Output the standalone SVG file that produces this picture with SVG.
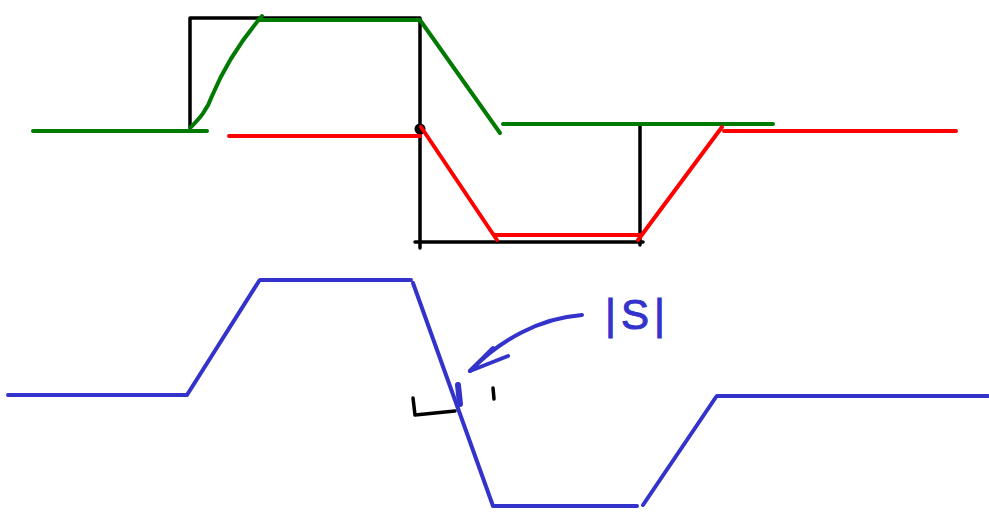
<svg xmlns="http://www.w3.org/2000/svg" width="989" height="519" viewBox="0 0 989 519">
<style>
.k{stroke:#000;stroke-width:3.5;fill:none;stroke-linecap:round;stroke-linejoin:round}
.g{stroke:#007a00;stroke-width:4;fill:none;stroke-linecap:round;stroke-linejoin:round}
.r{stroke:#ff0000;stroke-width:4;fill:none;stroke-linecap:round;stroke-linejoin:round}
.b{stroke:#3333cc;stroke-width:4;fill:none;stroke-linecap:round;stroke-linejoin:round}
</style>
<rect width="989" height="519" fill="#fff"/>
<g id="black-frame">
<path class="k" d="M190,128 L190,18 L420,18 L420,248"/>
<path class="k" d="M415,242 L643,242"/>
<path class="k" d="M640,124 L640,245"/>
<circle cx="420" cy="129" r="5.5" fill="#000"/>
</g>
<g id="green-signal">
<path class="g" d="M33,131 L207,131"/>
<path class="g" d="M191,127 C200,118 207,110 212,96 C222,72 238,44 262,16"/>
<path class="g" d="M258,20 L420,20 L500,133"/>
<path class="g" d="M503,124 L773,124"/>
</g>
<g id="red-signal">
<path class="r" d="M229,136 L420,136"/>
<path class="r" d="M421,127 L497,240"/>
<path class="r" d="M495,235 L640,235"/>
<path class="r" d="M638,240 L722,127"/>
<path class="r" d="M724,131 L956,131"/>
</g>
<g id="blue-signal">
<path class="b" d="M8,395 L187,395 L259,281"/>
<path class="b" d="M260,280 L411,280"/>
<path class="b" d="M413,283 L493,506"/>
<path class="b" d="M495,506 L637,506"/>
<path class="b" d="M643,505 L716,397"/>
<path class="b" d="M717,396 L988,396"/>
<path d="M458,385 L460,404" stroke="#3333cc" stroke-width="6" stroke-linecap="round"/>
</g>
<g id="connectors">
<path class="b" d="M582,315 C540,318 500,340 470,371"/>
<path class="b" d="M493,348 L470,371 L508,356"/>
</g>
<g id="marks">
<path class="k" d="M413,398 L415,415 L455,411"/>
<path class="k" d="M493,388 L494,399"/>
</g>
<g id="label">
<text x="605" y="329" font-family="Liberation Sans, sans-serif" font-size="42" fill="#3333cc" stroke="#3333cc" stroke-width="1" letter-spacing="5">|S|</text>
</g>
</svg>
